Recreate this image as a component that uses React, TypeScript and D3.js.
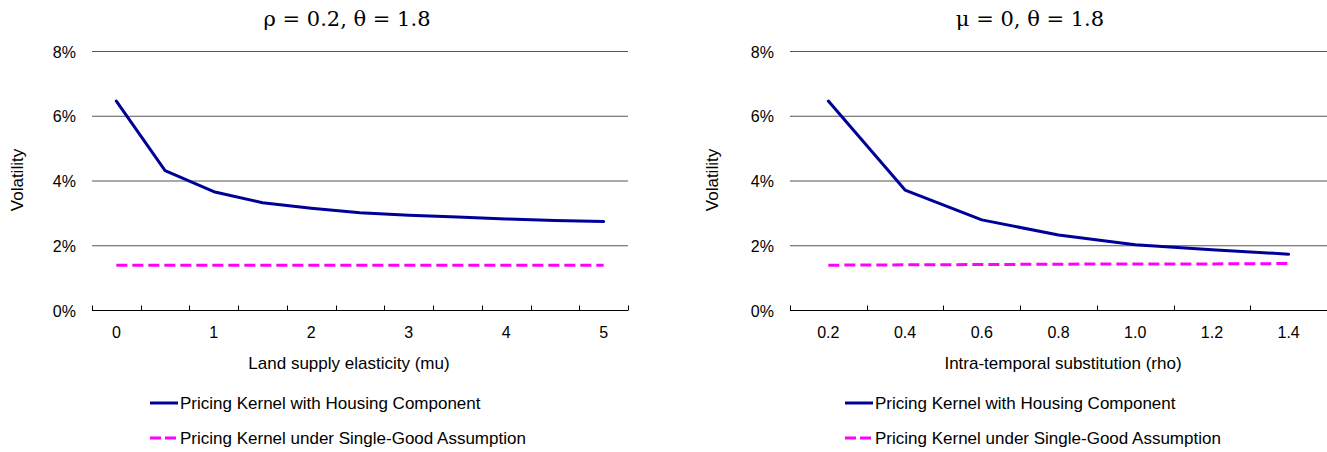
import React from "react";
import * as d3 from "d3";

const muCategories = ["0", "0.5", "1", "1.5", "2", "2.5", "3", "3.5", "4", "4.5", "5"];
const muTickLabels = ["0", "1", "2", "3", "4", "5"];
const housingByMu = [6.47, 4.32, 3.67, 3.33, 3.16, 3.02, 2.94, 2.89, 2.83, 2.78, 2.75];
const singleByMu = [1.4, 1.4, 1.4, 1.4, 1.4, 1.4, 1.4, 1.4, 1.4, 1.4, 1.4];

const rhoCategories = ["0.2", "0.4", "0.6", "0.8", "1.0", "1.2", "1.4"];
const rhoTickLabels = ["0.2", "0.4", "0.6", "0.8", "1.0", "1.2", "1.4"];
const housingByRho = [6.47, 3.72, 2.8, 2.33, 2.03, 1.88, 1.74];
const singleByRho = [1.4, 1.41, 1.42, 1.43, 1.44, 1.44, 1.45];

const yTicks = [0, 2, 4, 6, 8];
const seriesNames = [
  "Pricing Kernel with Housing Component",
  "Pricing Kernel under Single-Good Assumption",
];

const SANS = "'Liberation Sans', Arial, sans-serif";
const SERIF = "'DejaVu Serif', 'Liberation Serif', serif";

type PanelProps = {
  left: number;
  right: number;
  title: string;
  titleX: number;
  xTitle: string;
  xTitleX: number;
  yTitleX: number;
  legendX: number;
  categories: string[];
  tickLabels: string[];
  housing: number[];
  single: number[];
};

function Panel(p: PanelProps) {
  const y = d3.scaleLinear().domain([0, 8]).range([310.5, 51.5]);
  const x = d3.scaleBand().domain(p.categories).range([p.left, p.right]);
  const cx = (c: string) => (x(c) as number) + x.bandwidth() / 2;
  const line = d3
    .line<number>()
    .x((_, i) => cx(p.categories[i]))
    .y((v) => y(v));
  const boundaries = d3.range(p.categories.length + 1).map((i) => p.left + i * x.step());
  const step = p.categories.length === p.tickLabels.length ? 1 : 2;
  return (
    <g>
      <text x={p.titleX} y={26} textAnchor="middle" fontFamily={SERIF} fontSize={21} fill="#000">
        {p.title}
      </text>
      {yTicks.map((t) => (
        <g key={t}>
          <line x1={p.left} x2={p.right} y1={y(t)} y2={y(t)} stroke={t === 0 ? "#000" : "#555"} strokeWidth={1} />
          <text x={p.left - 16} y={y(t) + 6} textAnchor="end" fontFamily={SANS} fontSize={16} fill="#000">
            {t}%
          </text>
        </g>
      ))}
      {boundaries.map((bx, i) => (
        <line key={i} x1={Math.round(bx) + 0.5} x2={Math.round(bx) + 0.5} y1={y(0)} y2={y(0) - 5} stroke="#000" />
      ))}
      {p.categories.map((c, i) => {
        if (i % step !== 0) return null;
        return (
          <text key={c} x={cx(c)} y={338} textAnchor="middle" fontFamily={SANS} fontSize={16} fill="#000">
            {p.tickLabels[i / step]}
          </text>
        );
      })}
      <text x={p.xTitleX} y={369} textAnchor="middle" fontFamily={SANS} fontSize={17} fill="#000">
        {p.xTitle}
      </text>
      <text
        transform={`translate(${p.yTitleX},180) rotate(-90)`}
        textAnchor="middle"
        fontFamily={SANS}
        fontSize={17}
        fill="#000"
      >
        Volatility
      </text>
      <path d={line(p.single) || ""} fill="none" stroke="#FF00FF" strokeWidth={3} strokeDasharray="11,5" />
      <path d={line(p.housing) || ""} fill="none" stroke="#000099" strokeWidth={3} strokeLinejoin="round" strokeLinecap="round" />
      <line x1={p.legendX} x2={p.legendX + 28} y1={403} y2={403} stroke="#000099" strokeWidth={3} />
      <text x={p.legendX + 30} y={409} fontFamily={SANS} fontSize={17} fill="#000">
        {seriesNames[0]}
      </text>
      <line x1={p.legendX} x2={p.legendX + 28} y1={438} y2={438} stroke="#FF00FF" strokeWidth={3} strokeDasharray="11,4" />
      <text x={p.legendX + 30} y={444} fontFamily={SANS} fontSize={17} fill="#000">
        {seriesNames[1]}
      </text>
    </g>
  );
}

export default function App() {
  return (
    <svg
      width={1327}
      height={452}
      style={{ position: "absolute", left: 0, top: 0, background: "#fff" }}
    >
      <rect x={0} y={0} width={1327} height={452} fill="#fff" />
      <Panel
        left={92}
        right={628}
        title="ρ = 0.2, θ = 1.8"
        titleX={347}
        xTitle="Land supply elasticity (mu)"
        xTitleX={349}
        yTitleX={23}
        legendX={150}
        categories={muCategories}
        tickLabels={muTickLabels}
        housing={housingByMu}
        single={singleByMu}
      />
      <Panel
        left={790}
        right={1327}
        title="μ = 0, θ = 1.8"
        titleX={1030}
        xTitle="Intra-temporal substitution (rho)"
        xTitleX={1063}
        yTitleX={718}
        legendX={845}
        categories={rhoCategories}
        tickLabels={rhoTickLabels}
        housing={housingByRho}
        single={singleByRho}
      />
    </svg>
  );
}
